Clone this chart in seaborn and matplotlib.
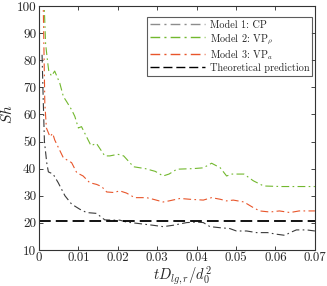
import numpy as np
import pandas as pd
import matplotlib
matplotlib.use("Agg")
import matplotlib.pyplot as plt
import seaborn as sns

# --- data ---
t_cp = [0.0008, 0.0011, 0.0014, 0.002, 0.0024, 0.0036, 0.0049, 0.0066, 0.0083, 0.0104,
        0.0121, 0.0146, 0.0167, 0.0188, 0.0205, 0.0222, 0.0256, 0.029, 0.0315, 0.034,
        0.0375, 0.04, 0.0417, 0.0434, 0.046, 0.0484, 0.0501, 0.0527, 0.0552, 0.058,
        0.0603, 0.0624, 0.0637, 0.0653, 0.0679, 0.07]
sh_cp = [82, 65, 50, 42, 38.8, 38, 34.8, 30, 26.9, 25,
         23.8, 23.5, 21.1, 21, 21, 20.3, 19.7, 19.1, 18.6, 19.1,
         20.1, 20.3, 20.1, 18.6, 18.2, 17.9, 17, 17, 16.4, 16.4,
         15.8, 15.4, 16.4, 17.4, 17.4, 17]

t_vp_rho = [0.0009, 0.00135, 0.0017, 0.0022, 0.0025, 0.0032, 0.004, 0.0053, 0.0062, 0.007,
            0.0083, 0.0091, 0.01, 0.0108, 0.0121, 0.0132, 0.0146, 0.0167, 0.018, 0.020,
            0.0215, 0.024, 0.027, 0.0295, 0.0315, 0.033, 0.035, 0.039, 0.0417, 0.0438,
            0.046, 0.0476, 0.049, 0.052, 0.0544, 0.057, 0.0615, 0.07]
sh_vp_rho = [130, 100, 86, 79.5, 76, 74.2, 76, 71.5, 66.6, 64.8,
             61.7, 59.3, 55, 55.5, 51.7, 48.5, 49.3, 44.7, 44.7, 45.3,
             44.7, 40.7, 40, 39, 37.3, 38, 39.8, 40, 40.3, 42,
             40.3, 37.3, 38, 38, 35.5, 33.6, 33.4, 33.4]

t_vp_a = [0.0009, 0.0011, 0.0015, 0.0019, 0.0028, 0.0035, 0.004, 0.0062, 0.0083, 0.0096,
          0.0112, 0.0129, 0.0146, 0.0159, 0.0172, 0.019, 0.0205, 0.0222, 0.0243, 0.0273,
          0.029, 0.0315, 0.033, 0.0358, 0.0383, 0.0417, 0.0438, 0.046, 0.0476, 0.0493,
          0.052, 0.0544, 0.056, 0.0586, 0.061, 0.0637, 0.066, 0.07]
sh_vp_a = [130, 100, 64, 55, 51.8, 53, 50.6, 44, 42.2, 38.5,
           37.3, 34.8, 34.2, 33.4, 31.4, 31.2, 31.8, 31, 29.3, 29.3,
           28.7, 27.7, 28.1, 29, 28.7, 28.4, 29.3, 28.7, 28.1, 28.4,
           27.7, 25.6, 24.4, 24, 24.4, 23.8, 24.4, 24.4]

sh_theory = 20.8

x_ticks = [0, 0.01, 0.02, 0.03, 0.04, 0.05, 0.06, 0.07]
y_ticks = [10, 20, 30, 40, 50, 60, 70, 80, 90, 100]

labels = ["Model 1: CP", r"Model 2: VP$_\rho$",
          r"Model 3: VP$_a$", "Theoretical prediction"]

sns.set_theme(style="ticks")
plt.rcParams["mathtext.fontset"] = "cm"
plt.rcParams["font.family"] = ["cmr10", "DejaVu Serif"]
plt.rcParams["axes.formatter.use_mathtext"] = True

fig = plt.figure(figsize=(3.27, 2.86), dpi=100)
ax = fig.add_axes([0.119, 0.126, 0.844, 0.853])

dd = (7, 3, 1.5, 3)
sns.lineplot(x=t_cp, y=sh_cp, ax=ax, color="#3a3a3a", lw=0.8, label=labels[0])
sns.lineplot(x=t_vp_rho, y=sh_vp_rho, ax=ax, color="#72b82e", lw=0.8, label=labels[1])
sns.lineplot(x=t_vp_a, y=sh_vp_a, ax=ax, color="#e8552a", lw=0.8, label=labels[2])
ax.axhline(sh_theory, color="black", lw=1.3, dashes=(6.5, 2.8), label=labels[3])
for ln in ax.lines[:3]:
    ln.set_dashes(dd)

ax.set_xlim(0, 0.07)
ax.set_ylim(10, 100)
ax.set_xticks(x_ticks)
ax.set_yticks(y_ticks)
ax.set_xticklabels(["0"] + [f"{v:g}" for v in x_ticks[1:]], fontsize=9.2)
ax.set_yticklabels([f"{v}" for v in y_ticks], fontsize=9.5)
ax.tick_params(direction="in", top=True, right=True, length=3, width=0.6, pad=2)
ax.tick_params(axis="x", pad=1.5)
for s in ax.spines.values():
    s.set_linewidth(0.8)
    s.set_color("#333333")

ax.set_xlabel(r"$tD_{lg,r}/d_0^2$", fontsize=10.5)
ax.xaxis.set_label_coords(0.52, -0.062)
ax.set_ylabel(r"$Sh$", fontsize=11)
ax.yaxis.set_label_coords(-0.085, 0.555)

leg = ax.legend(loc="upper left", fontsize=7.4, frameon=True, fancybox=False,
                edgecolor="#333333", handlelength=5.4, handletextpad=0.4,
                borderpad=0.3, borderaxespad=0, labelspacing=0.1,
                bbox_to_anchor=(0.391, 0.953))
leg.get_frame().set_linewidth(0.8)
leg.legend_handles[0].set_color("#8c8c8c")
for h in leg.legend_handles:
    h.set_linewidth(1.0)

fig.savefig("out.png", dpi=100)
